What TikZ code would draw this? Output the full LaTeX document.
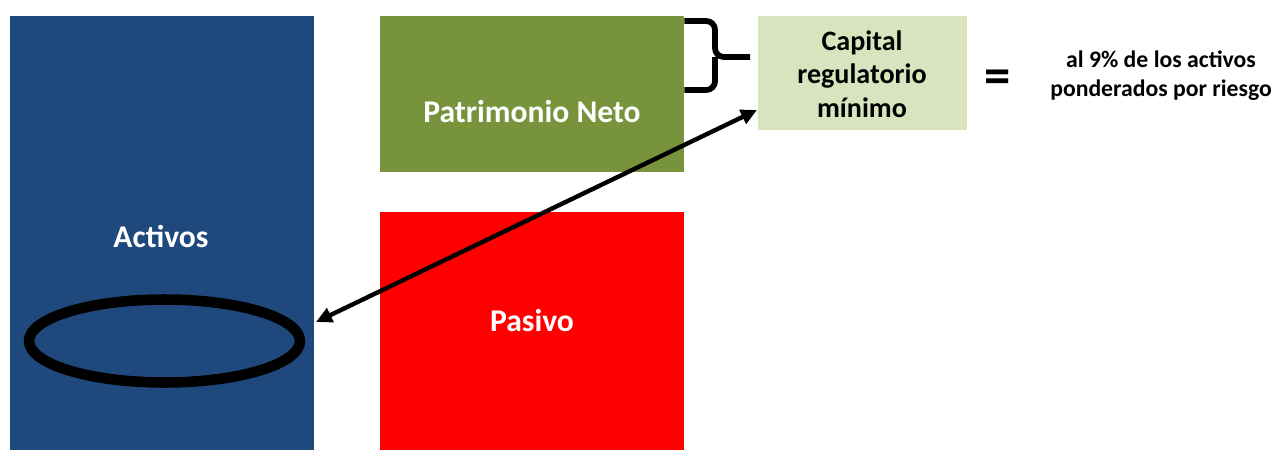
\documentclass[tikz,border=0pt]{standalone}
\usepackage{fontspec}
\setmainfont{Carlito}
\usetikzlibrary{arrows.meta,positioning,shapes.geometric}
\definecolor{activoblue}{RGB}{31,73,125}
\definecolor{patrigreen}{RGB}{119,147,60}
\definecolor{pasivored}{RGB}{255,0,0}
\definecolor{capitallight}{RGB}{215,228,189}

\begin{document}
\begin{tikzpicture}[x=0.02cm,y=-0.02cm,
      blk/.style={inner sep=0pt,minimum width=6.08cm},
      lbl/.style={anchor=base,text=white,font=\fontsize{18}{21}\selectfont\bfseries},
      a/.style={{Triangle[length=3.2mm,width=3mm]}-{Triangle[length=3.2mm,width=3mm]},line width=2.5pt,black},
      brc/.style={line width=3.3pt,rounded corners=5pt,black}]
    \useasboundingbox (0,0) rectangle (1277,450);
    % balance
    \node[blk,fill=activoblue,minimum height=8.68cm] (activos) at (162,233) {};
    \node[blk,fill=patrigreen,minimum height=3.12cm] (pn) at (532,94) {};
    \node[blk,fill=pasivored,minimum height=4.76cm] (pasivo) at (532,331) {};
    \node[lbl] (activoslbl) at (161,247) {Activos};
    \node[lbl] (pnlbl) at (532,122) {Patrimonio Neto};
    \node[lbl] (pasivolbl) at (532,331) {Pasivo};
    \node[draw,line width=6pt,ellipse,inner sep=0pt,minimum width=5.42cm,minimum height=1.66cm] (riesgo) at (164.5,341) {};
    % capital
    \node[inner sep=0pt,fill=capitallight,minimum width=4.18cm,minimum height=2.28cm] (capital) at (862.5,73) {};
    \node[anchor=base,align=center,font=\fontsize{16}{19}\selectfont\bfseries] (capitallbl) at (862,117)
      {Capital\\regulatorio\\mínimo};
    \node[font=\fontsize{30}{30}\selectfont\bfseries] (igual) at (998,82) {=};
    \node[anchor=base,align=center,font=\fontsize{13.5}{16}\selectfont\bfseries] (pondlbl) at (1161,96)
      {al 9\% de los activos\\ponderados por riesgo};
    \draw[brc] (pn.east |- 0,21) -- (715,21) -- (715,57) -- (750,57);
    \draw[brc] (715,57) -- (715,90) -- (pn.east |- 0,90);
    \coordinate (aini) at (316,322);
    \coordinate (afin) at (757,110);
    \draw[a] (aini) -- (afin);
  \end{tikzpicture}
\end{document}
